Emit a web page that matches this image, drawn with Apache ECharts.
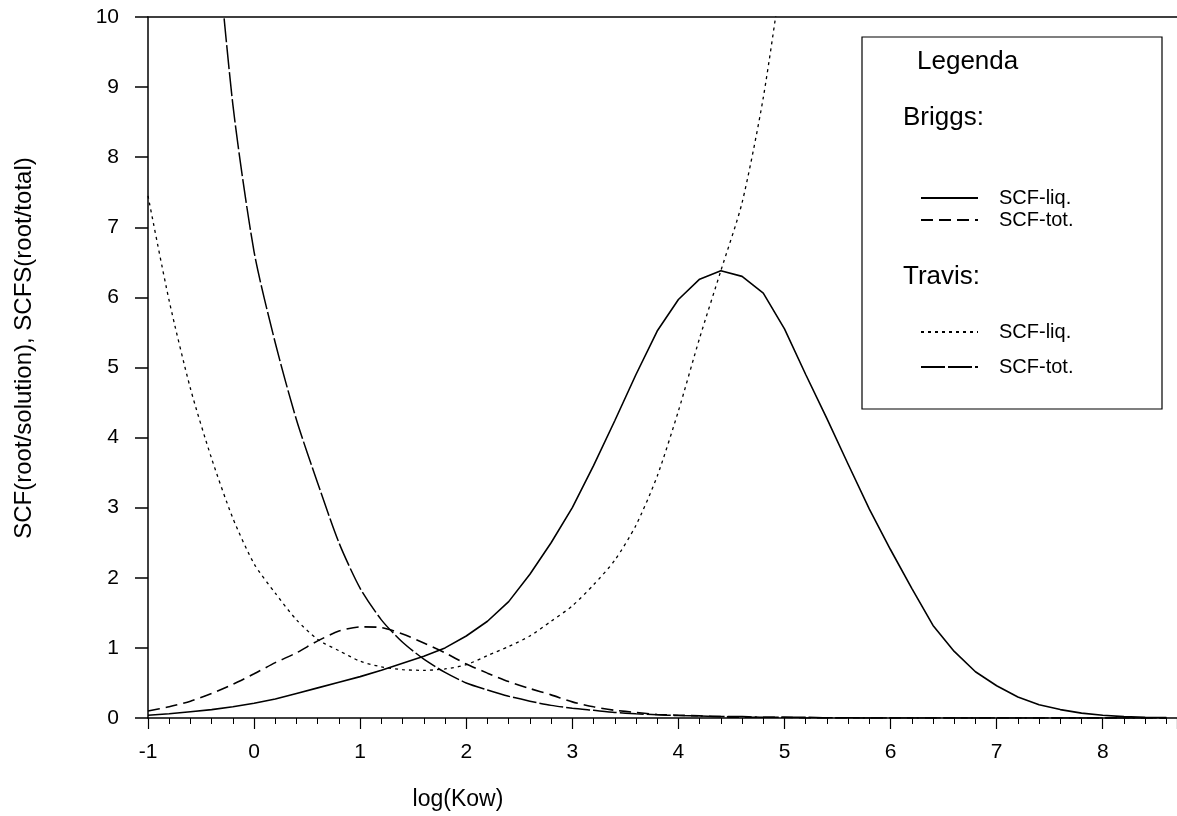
<!DOCTYPE html>
<html>
<head>
<meta charset="utf-8">
<script src="https://cdn.jsdelivr.net/npm/echarts@6/dist/echarts.min.js"></script>
<style>
  html, body { margin: 0; padding: 0; background: #fff; }
  #main { width: 1177px; height: 816px; }
</style>
</head>
<body>
<div id="main"></div>
<script>
// log(Kow) values shared by all four curves
var logKow = [-1, -0.8, -0.6, -0.4, -0.2, 0, 0.2, 0.4, 0.6, 0.8,
  1, 1.2, 1.4, 1.6, 1.8, 2, 2.2, 2.4, 2.6, 2.8,
  3, 3.2, 3.4, 3.6, 3.8, 4, 4.2, 4.4, 4.6, 4.8,
  5, 5.2, 5.4, 5.6, 5.8, 6, 6.2, 6.4, 6.6, 6.8,
  7, 7.2, 7.4, 7.6, 7.8, 8, 8.2, 8.4, 8.6];

// Briggs SCF-liq. (solid)
var briggsLiq = [0.04, 0.06, 0.09, 0.12, 0.16, 0.21, 0.27, 0.35, 0.43, 0.51,
  0.59, 0.68, 0.78, 0.88, 1.0, 1.17, 1.38, 1.66, 2.05, 2.5,
  3.0, 3.6, 4.24, 4.9, 5.52, 5.97, 6.26, 6.38, 6.3, 6.06,
  5.55, 4.9, 4.27, 3.62, 2.98, 2.4, 1.85, 1.32, 0.95, 0.66,
  0.46, 0.3, 0.19, 0.12, 0.07, 0.04, 0.02, 0.01, 0.005];

// Briggs SCF-tot. (short dashes)
var briggsTot = [0.10, 0.16, 0.24, 0.35, 0.48, 0.63, 0.79, 0.93, 1.1, 1.24,
  1.3, 1.29, 1.2, 1.07, 0.93, 0.77, 0.64, 0.52, 0.42, 0.33,
  0.23, 0.16, 0.11, 0.08, 0.05, 0.04, 0.03, 0.02, 0.01, 0.01,
  0.01, 0, 0, 0, 0, 0, 0, 0, 0, 0,
  0, 0, 0, 0, 0, 0, 0, 0, 0];

// Travis SCF-liq. (dotted), runs off the top after 5
var travisLiq = [7.45, 5.95, 4.7, 3.7, 2.85, 2.2, 1.78, 1.40, 1.12, 0.96,
  0.81, 0.73, 0.69, 0.68, 0.70, 0.76, 0.89, 1.02, 1.17, 1.38,
  1.6, 1.9, 2.25, 2.75, 3.45, 4.38, 5.42, 6.38, 7.35, 8.85,
  10.9, 13.2, null, null, null, null, null, null, null, null,
  null, null, null, null, null, null, null, null, null];

// Travis SCF-tot. (long dashes), enters from above the top
var travisTot = [null, null, null, 11.9, 8.75, 6.65, 5.35, 4.25, 3.35, 2.5,
  1.85, 1.4, 1.08, 0.84, 0.65, 0.5, 0.4, 0.31, 0.24, 0.18,
  0.14, 0.11, 0.08, 0.06, 0.045, 0.035, 0.03, 0.02, 0.02, 0.01,
  0.01, 0.01, 0.005, 0.005, 0, 0, 0, 0, 0, 0,
  0, 0, 0, 0, 0, 0, 0, 0, 0];

var FONT = '"Liberation Sans", Arial, Helvetica, sans-serif';

function pairs(ys) {
  return logKow.map(function (x, i) { return [x, ys[i]]; });
}

function curve(name, ys, width, type, smooth) {
  return {
    name: name,
    type: 'line',
    data: pairs(ys),
    symbol: 'none',
    showSymbol: false,
    smooth: smooth,
    clip: true,
    lineStyle: { color: '#000', width: width, type: type },
    itemStyle: { color: '#000' },
    emphasis: { disabled: true }
  };
}

var legendBase = {
  orient: 'vertical',
  left: 920,
  padding: 0,
  itemWidth: 57,
  itemHeight: 14,
  selectedMode: false,
  itemStyle: { opacity: 0 },
  formatter: function (n) { return n.split(' ')[1]; },
  textStyle: { color: '#000', fontSize: 20, fontFamily: FONT, padding: [0, 0, 0, 16] }
};

var myChart = echarts.init(document.getElementById('main'));

myChart.setOption({
  animation: false,
  backgroundColor: '#fff',
  grid: { left: 148, right: 0, top: 17, bottom: 98 },
  xAxis: [
    {
      type: 'value',
      min: -1,
      max: 8.7,
      interval: 1,
      axisLine: { onZero: false, lineStyle: { color: '#000', width: 1.5 } },
      axisTick: { length: 11, lineStyle: { color: '#000', width: 1.2 } },
      minorTick: { show: true, splitNumber: 5, length: 6, lineStyle: { color: '#000', width: 1 } },
      axisLabel: { color: '#000', fontSize: 21, fontFamily: FONT, margin: 24, showMaxLabel: false },
      splitLine: { show: false }
    },
    {
      type: 'value',
      position: 'top',
      min: -1,
      max: 8.7,
      axisLine: { show: true, onZero: false, lineStyle: { color: '#000', width: 1.5 } },
      axisTick: { show: false },
      axisLabel: { show: false },
      splitLine: { show: false }
    }
  ],
  yAxis: {
    type: 'value',
    min: 0,
    max: 10,
    interval: 1,
    axisLine: { show: true, onZero: false, lineStyle: { color: '#000', width: 1.5 } },
    axisTick: { show: true, length: 13, lineStyle: { color: '#000', width: 1.5 } },
    axisLabel: { color: '#000', fontSize: 21, fontFamily: FONT, margin: 29 },
    splitLine: { show: false }
  },
  legend: [
    Object.assign({}, legendBase, {
      data: ['Briggs SCF-liq.', 'Briggs SCF-tot.'],
      top: 188,
      itemGap: 2
    }),
    Object.assign({}, legendBase, {
      data: ['Travis SCF-liq.', 'Travis SCF-tot.'],
      top: 322,
      itemGap: 15
    })
  ],
  graphic: [
    {
      type: 'rect',
      shape: { x: 862, y: 37, width: 300, height: 372 },
      style: { fill: '#fff', stroke: '#000', lineWidth: 1.2 },
      z: 0
    },
    {
      type: 'text', x: 917, y: 62,
      style: { text: 'Legenda', font: '26px ' + FONT, fill: '#000', verticalAlign: 'middle' }
    },
    {
      type: 'text', x: 903, y: 118,
      style: { text: 'Briggs:', font: '26px ' + FONT, fill: '#000', verticalAlign: 'middle' }
    },
    {
      type: 'text', x: 903, y: 277,
      style: { text: 'Travis:', font: '26px ' + FONT, fill: '#000', verticalAlign: 'middle' }
    },
    {
      type: 'text', x: 458, y: 800,
      style: { text: 'log(Kow)', font: '23px ' + FONT, fill: '#000', align: 'center', verticalAlign: 'middle' }
    },
    {
      type: 'text', x: 24, y: 348, rotation: Math.PI / 2,
      style: { text: 'SCF(root/solution), SCFS(root/total)', font: '24px ' + FONT, fill: '#000', align: 'center', verticalAlign: 'middle' }
    }
  ],
  series: [
    curve('Briggs SCF-liq.', briggsLiq, 1.6, 'solid', false),
    curve('Briggs SCF-tot.', briggsTot, 1.6, [12, 6], 0.25),
    curve('Travis SCF-liq.', travisLiq, 1.3, [3, 4], 0.25),
    curve('Travis SCF-tot.', travisTot, 1.5, [24, 3], 0.25)
  ]
});
</script>
</body>
</html>
